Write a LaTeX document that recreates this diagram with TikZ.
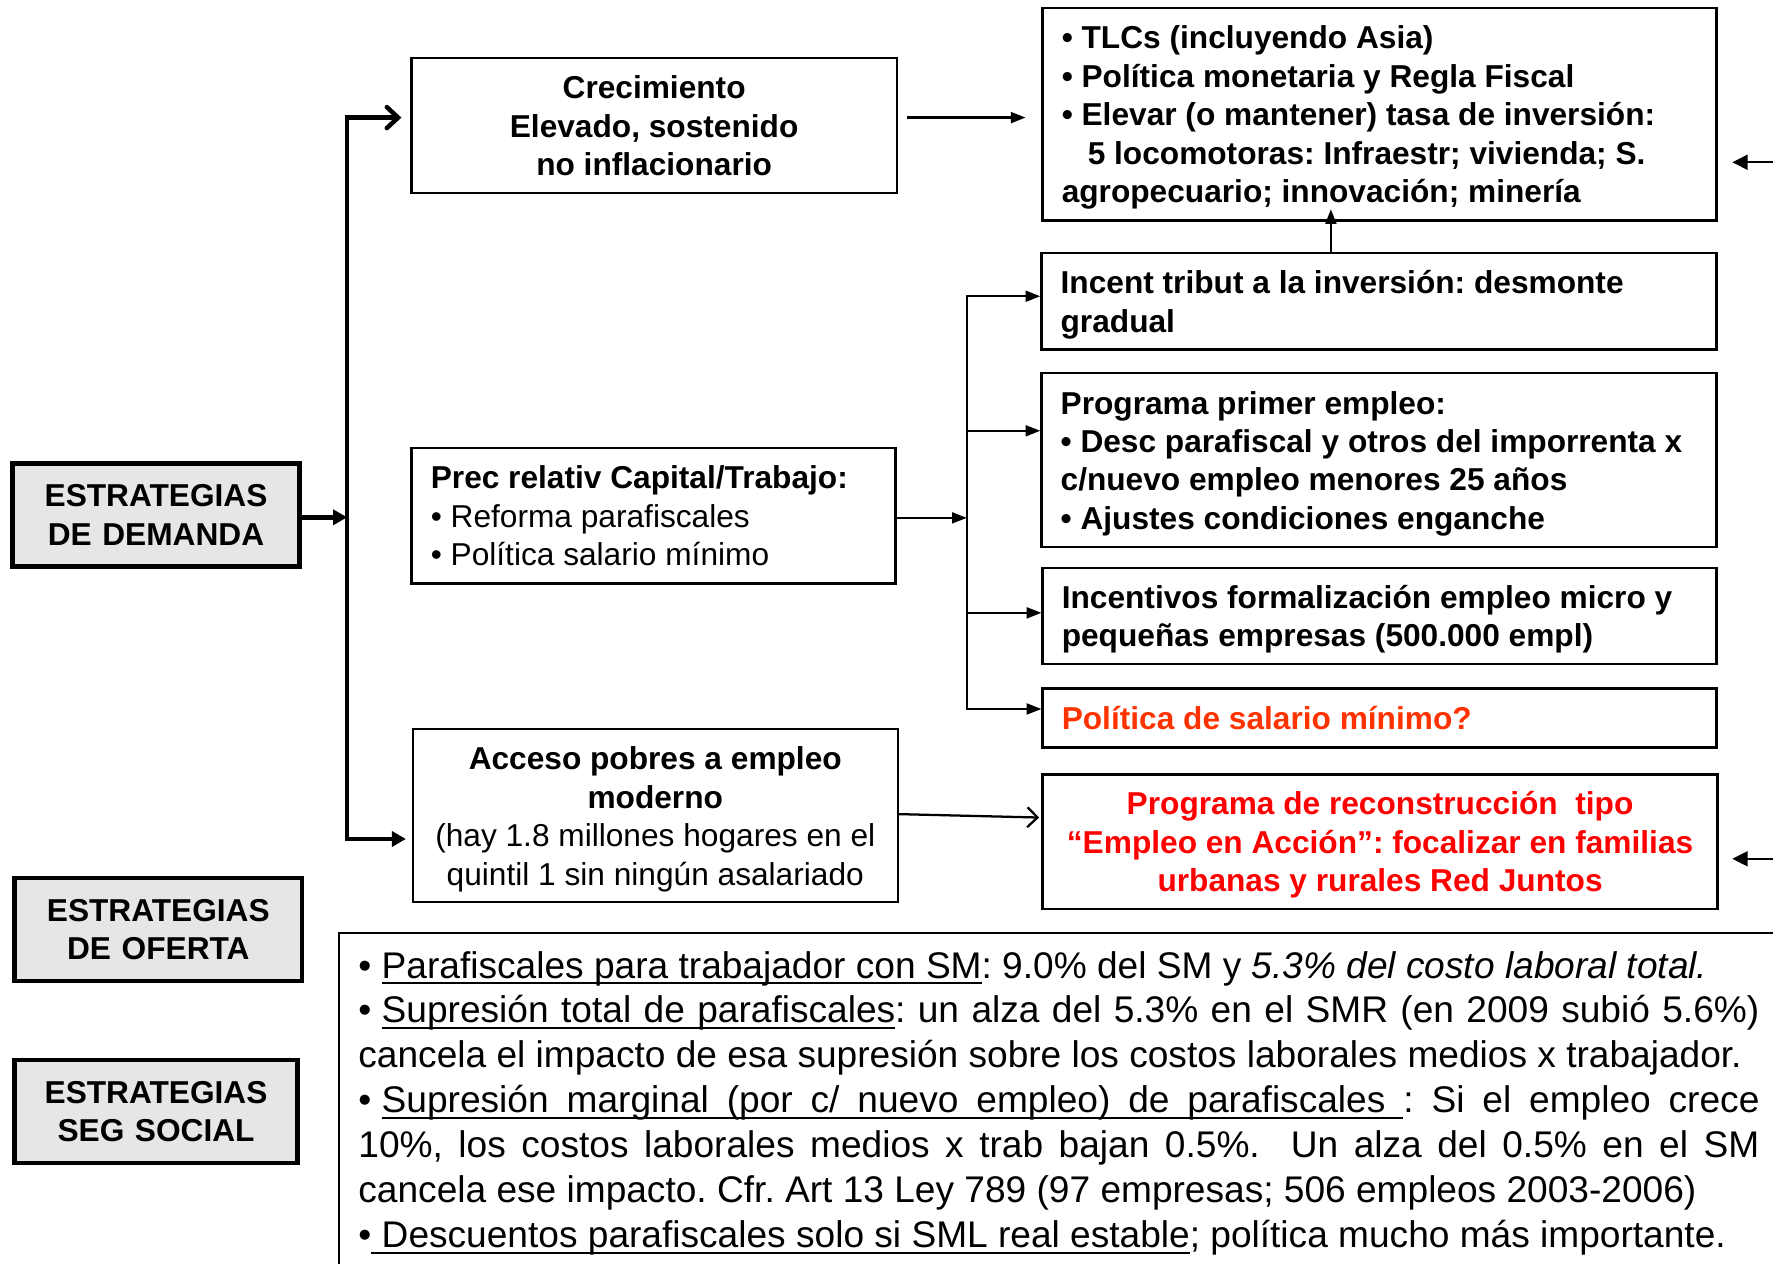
\documentclass[tikz,border=0pt]{standalone}
\usepackage{fontspec}
\setmainfont{Liberation Sans}
\usetikzlibrary{arrows.meta,calc}
\definecolor{boxgray}{RGB}{230,230,230}
\definecolor{polorange}{RGB}{255,51,0}
\definecolor{recred}{RGB}{255,0,0}
% underline helpers: words as boxes, spaces as stretchable underlined glue
\newcommand\ulw[1]{\setbox0\hbox{#1}\rlap{\rule[-2.7pt]{\wd0}{0.9pt}}\box0}
\newcommand\uls{\leaders\hrule height -1.8pt depth 2.7pt\hskip\fontdimen2\font plus \fontdimen3\font minus \fontdimen4\font\relax}
\def\ulp#1{\ulpa#1 \ulend}
\def\ulpa#1 #2\ulend{\ulw{#1}\if\relax\detokenize{#2}\relax\else\uls\ulpa#2\ulend\fi}
% struts for even vertical centring of box texts
\newcommand\tS{\rule{0pt}{13.2pt}}
\newcommand\bS{\rule[-3pt]{0pt}{3pt}}
% natural font interword spacing inside aligned nodes (fixed, or stretchable)
\newcommand\natsp{\spaceskip=\fontdimen2\font\relax\xspaceskip=\fontdimen2\font\relax}
\newcommand\natspst{\spaceskip=\fontdimen2\font plus \fontdimen3\font minus \fontdimen4\font\relax\xspaceskip=\spaceskip}
\newcommand\bsp{\hspace{0.278em}}
\tikzset{
  box/.style={draw, line width=1pt, rectangle, inner xsep=8.5pt, inner ysep=0pt,
    font=\bfseries\fontsize{14}{17}\selectfont,
    execute at begin node=\natsp\tS, execute at end node=\bS},
  lbox/.style={box, align=left},
  cbox/.style={box, align=center, inner xsep=2pt},
  strat/.style={draw, line width=2pt, fill=boxgray, align=center, inner sep=0pt,
    text width=110pt, minimum height=45.5pt,
    font=\bfseries\fontsize{14}{17}\selectfont},
  thk/.style={line width=2pt},
  thn/.style={line width=1pt},
  tipthin/.style={-{Triangle[length=6.5pt,width=4.8pt]}},
  tipside/.style={-{Triangle[length=6.8pt,width=6.6pt]}}
}
\begin{document}
\frenchspacing
\begin{tikzpicture}[x=0.5pt,y=-0.5pt]
\useasboundingbox (0,0) rectangle (1568,1117);

% strategy labels
\node[strat, minimum width=127pt] (dem) at (138,455.5) {ESTRATEGIAS\\DE DEMANDA};
\node[strat, minimum width=127pt] (ofe) at (140,822) {ESTRATEGIAS\\DE OFERTA};
\node[strat, minimum width=125pt] (seg) at (138,983) {ESTRATEGIAS\\SEG SOCIAL};

% middle column
\node[cbox, minimum width=214.5pt, text width=210.5pt, minimum height=60pt] (crec) at (578.5,111)
  {Crecimiento\\Elevado, sostenido\\no inflacionario};
\node[lbox, minimum width=214pt, text width=197pt, minimum height=60pt] (prec) at (578,456)
  {Prec relativ Capital/Trabajo:\\{\mdseries • Reforma parafiscales}\\{\mdseries • Política salario mínimo}};
\node[cbox, minimum width=214.5pt, text width=210.5pt, minimum height=76.5pt] (acc) at (579.5,721.5)
  {Acceso pobres a empleo\\moderno\\{\mdseries (hay 1.8 millones hogares en el}\\{\mdseries quintil 1 sin ningún asalariado}};

% right column
\node[lbox, minimum width=298pt, text width=281pt, minimum height=94pt] (tlc) at (1220,101)
  {• TLCs (incluyendo Asia)\\• Política monetaria y Regla Fiscal\\• Elevar (o mantener) tasa de inversión:\\\hspace*{11.5pt}5 locomotoras: Infraestr; vivienda; S.\\agropecuario; innovación; minería};
\node[lbox, minimum width=298.5pt, text width=281.5pt, minimum height=42.5pt] (inc) at (1219.5,266.5)
  {Incent tribut a la inversión: desmonte\\gradual};
\node[lbox, minimum width=298.5pt, text width=281.5pt, minimum height=77pt] (prog) at (1219.5,407)
  {Programa primer empleo:\\\mbox{• Desc parafiscal y otros del imporrenta x}\\c/nuevo empleo menores 25 años\\• Ajustes condiciones enganche};
\node[lbox, minimum width=298pt, text width=281pt, minimum height=42.5pt] (incf) at (1220,544.5)
  {Incentivos formalización empleo micro y\\pequeñas empresas (500.000 empl)};
\node[lbox, minimum width=298pt, text width=281pt, minimum height=26pt, text=polorange] (pol) at (1220,635)
  {Política de salario mínimo?};
\node[cbox, minimum width=298.5pt, text width=294.5pt, minimum height=59.5pt, text=recred] (rec) at (1220.5,744.5)
  {Programa de reconstrucción\ \ tipo\\“Empleo en Acción”: focalizar en familias\\urbanas y rurales Red Juntos};

% notes box
\node[draw, line width=1pt, anchor=north west, inner xsep=8.5pt, inner ysep=6pt,
      text width=640pt, align=left, font=\fontsize{16.4}{19.85}\selectfont,
      execute at begin node=\natspst] (notes) at (299,824)
  {\rule{0pt}{14pt}•\bsp\ulp{Parafiscales para trabajador con SM}: 9.0\% del SM y \textit{5.3\% del costo laboral total.}\\
   \makebox[619.5pt][s]{•\bsp\ulp{Supresión total de parafiscales}: un alza del 5.3\% en el SMR (en 2009 subió 5.6\%)}\\
   cancela el impacto de esa supresión sobre los costos laborales medios x trabajador.\\
   \makebox[619.5pt][s]{•\bsp\ulp{Supresión marginal (por c/ nuevo empleo) de parafiscales }: Si el empleo crece}\\
   \makebox[619.5pt][s]{10\%, los costos laborales medios x trab bajan 0.5\%.\ \ Un alza del 0.5\% en el SM}\\
   cancela ese impacto. Cfr. Art 13 Ley 789 (97 empresas; 506 empleos 2003-2006)\\
   •\ulp{ Descuentos parafiscales solo si SML real estable}; política mucho más importante.};

% coordinates
\coordinate (bus) at (307,456.5);
\coordinate (bus2) at (855,458);
\coordinate (ra1) at (1570,143.5);
\coordinate (rb1) at (1532,143.5);
\coordinate (ra2) at (1570,759.5);
\coordinate (rb2) at (1532,759.5);

% thick connectors
\draw[thk, -{Triangle[length=6.2pt,width=6.6pt]}] ([yshift=-1pt]dem.east) -- ([yshift=-0.5pt]bus);
\draw[thk, {Straight Barb[length=5pt,width=9.3pt,line cap=round]}-{Triangle[length=6.2pt,width=6.6pt]}]
  ([xshift=-4pt,yshift=3.5pt]crec.west) -| (bus) |- ([xshift=-2.5pt,yshift=-10.25pt]acc.west);

% thin connectors
\draw[thn, tipthin] ([xshift=4pt,yshift=3.5pt]crec.east) -- ([xshift=-7pt,yshift=-1.5pt]tlc.west);
\draw[thn, tipthin] ([yshift=-1pt]prec.east) -- (bus2);
\draw[thn, tipthin] (bus2) |- ([yshift=2.25pt]inc.west);
\draw[thn, tipthin] (bus2) |- ([yshift=13pt]prog.west);
\draw[thn, tipthin] (bus2) |- ([yshift=1.25pt]incf.west);
\draw[thn, tipthin] (bus2) |- ([yshift=4pt]pol.west);
\draw[thn, tipthin] ([xshift=-21.25pt]inc.north) -- ([xshift=-21.5pt,yshift=5.5pt]tlc.south);
\draw[thn, -{Straight Barb[length=4.5pt,width=8.8pt]}] ([yshift=0.75pt]acc.east) -- ([xshift=-1pt,yshift=10.75pt]rec.west);
\draw[thn, tipside] (ra1) -- (rb1);
\draw[thn, tipside] (ra2) -- (rb2);
\end{tikzpicture}
\end{document}
